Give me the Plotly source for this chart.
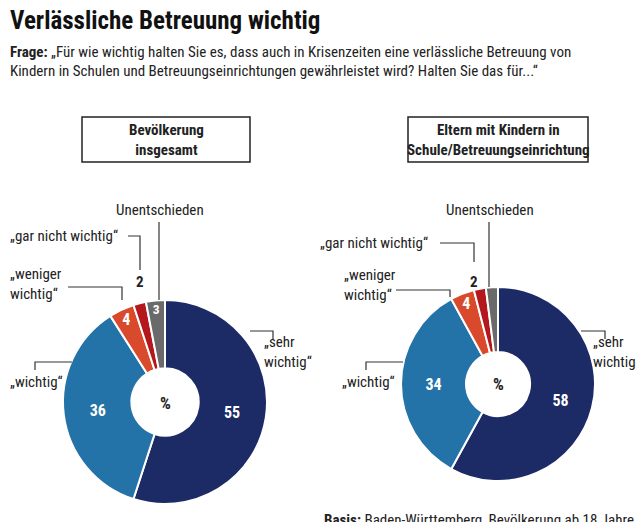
import plotly.graph_objects as go

W, H = 628, 514
OFF = 8

labels = ["„sehr wichtig“", "„wichtig“", "„weniger wichtig“", "„gar nicht wichtig“", "Unentschieden"]
werte_gesamt = [55, 36, 4, 2, 3]
werte_eltern = [58, 34, 4, 2, 2]
farben = ["#1c2a66", "#2372a8", "#d94a2c", "#b4181c", "#6a6a6a"]

FONT = "Liberation Sans Narrow, Roboto Condensed, Arial Narrow, sans-serif"


def px(x, y):
    # Seitenrand des Browsers (8px) herausrechnen
    return (x - OFF) / W, 1 - (y - OFF) / H


fig = go.Figure()


def add_pie(werte, x0, x1, y0, y1):
    ax0, ay1 = px(x0, y0)
    ax1, ay0 = px(x1, y1)
    txt = [str(v) if v >= 3 else "" for v in werte]
    fig.add_trace(go.Pie(
        values=werte, labels=labels, sort=False, direction="clockwise", rotation=0,
        hole=0.33, marker=dict(colors=farben, line=dict(color="white", width=2)),
        text=txt, texttemplate="<b>%{text}</b>", textposition="inside",
        insidetextorientation="horizontal",
        textfont=dict(color="white", size=16, family=FONT),
        domain=dict(x=[ax0, ax1], y=[ay0, ay1]), showlegend=False, hoverinfo="label+value",
    ))


add_pie(werte_gesamt, 63, 267, 300, 504)
add_pie(werte_eltern, 401, 595, 287, 481)

ann = []
shapes = []


def text(x, y, s, size=14, bold=False, xanchor="left", color="#222", yanchor="middle"):
    ax, ay = px(x, y)
    ann.append(dict(x=ax, y=ay, xref="paper", yref="paper", text=f"<b>{s}</b>" if bold else s,
                    showarrow=False, xanchor=xanchor, yanchor=yanchor, align=xanchor if xanchor != "center" else "center",
                    font=dict(size=size, color=color, family=FONT)))


def line(pts):
    path = "M " + " L ".join(f"{px(x, y)[0]} {px(x, y)[1]}" for x, y in pts)
    shapes.append(dict(type="path", path=path, xref="paper", yref="paper",
                       line=dict(color="#333", width=1.2)))


def box(x0, y0, x1, y1, s):
    a0, b0 = px(x0, y0)
    a1, b1 = px(x1, y1)
    shapes.append(dict(type="rect", x0=a0, x1=a1, y0=b1, y1=b0, xref="paper", yref="paper",
                       line=dict(color="#222", width=1.5)))
    text((x0 + x1) / 2, (y0 + y1) / 2, s, size=15, bold=True, xanchor="center")


text(8, 20, "Verlässliche Betreuung wichtig", size=25, bold=True, color="#111")
text(8, 52, "<b>Frage:</b> „Für wie wichtig halten Sie es, dass auch in Krisenzeiten eine verlässliche Betreuung von", size=15)
text(8, 71, "Kindern in Schulen und Betreuungseinrichtungen gewährleistet wird? Halten Sie das für...“", size=15)
box(82, 117, 250, 162, "Bevölkerung<br>insgesamt")
box(408, 117, 588, 162, "Eltern mit Kindern in<br>Schule/Betreuungseinrichtung")

# Beschriftungen links
text(165, 403, "<b>%</b>", size=17, xanchor="center")
text(160, 210, "Unentschieden", size=15, xanchor="center")
line([(159, 222), (159, 300)])
text(8, 236, "„gar nicht wichtig“", size=15)
line([(128, 236), (140, 236), (140, 270)])
text(140, 282, str(werte_gesamt[3]), size=15, bold=True, xanchor="center")
text(8, 284, "„weniger<br>wichtig“", size=15)
line([(68, 287), (122, 287), (122, 300)])
text(8, 382, "„wichtig“", size=15)
line([(35, 370), (35, 362), (72, 362)])
text(262, 352, "„sehr<br>wichtig“", size=15)
line([(250, 331), (273, 331), (273, 339)])

# Beschriftungen rechts
text(498, 384, "<b>%</b>", size=17, xanchor="center")
text(490, 210, "Unentschieden", size=15, xanchor="center")
line([(489, 222), (489, 287)])
text(318, 243, "„gar nicht wichtig“", size=15)
line([(440, 243), (474, 243), (474, 262)])
text(474, 282, str(werte_eltern[3]), size=15, bold=True, xanchor="center")
text(342, 285, "„weniger<br>wichtig“", size=15)
line([(396, 290), (450, 290), (450, 297)])
text(340, 382, "„wichtig“", size=15)
line([(366, 370), (366, 362), (403, 362)])
text(591, 352, "„sehr<br>wichtig“", size=15)
line([(581, 331), (605, 331), (605, 339)])

text(636, 520, "<b>Basis:</b> Baden-Württemberg, Bevölkerung ab 18 Jahre", size=15, xanchor="right")

fig.update_layout(width=W, height=H, margin=dict(l=0, r=0, t=0, b=0),
                  paper_bgcolor="white", plot_bgcolor="white",
                  annotations=ann, shapes=shapes, font=dict(family=FONT))
fig.write_html("out.html")
